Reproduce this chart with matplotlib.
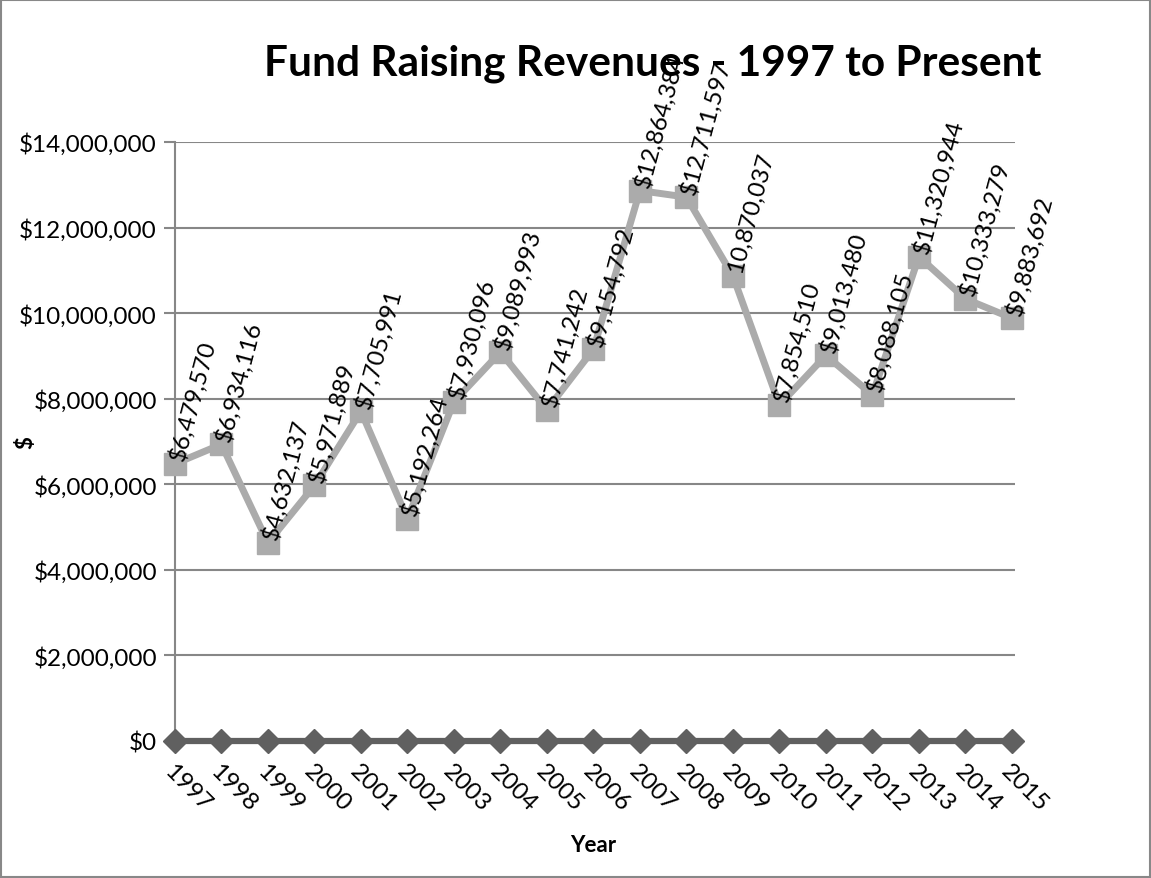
import numpy as np
import matplotlib.pyplot as plt
from matplotlib.patches import Rectangle

years = [1997, 1998, 1999, 2000, 2001, 2002, 2003, 2004, 2005, 2006,
         2007, 2008, 2009, 2010, 2011, 2012, 2013, 2014, 2015]
revenue = [6479570, 6934116, 4632137, 5971889, 7705991, 5192264, 7930096,
           9089993, 7741242, 9154792, 12864384, 12711597, 10870037, 7854510,
           9013480, 8088105, 11320944, 10333279, 9883692]
point_labels = ['$6,479,570', '$6,934,116', '$4,632,137', '$5,971,889',
                '$7,705,991', '$5,192,264', '$7,930,096', '$9,089,993',
                '$7,741,242', '$9,154,792', '$12,864,384', '$12,711,597',
                '10,870,037', '$7,854,510', '$9,013,480', '$8,088,105',
                '$11,320,944', '$10,333,279', '$9,883,692']
baseline = [0] * len(years)
yticks = [0, 2000000, 4000000, 6000000, 8000000, 10000000, 12000000, 14000000]

plt.rcParams['font.family'] = ['Lato', 'DejaVu Sans']

fig = plt.figure(figsize=(11.51, 8.79), dpi=100)
ax = fig.add_axes([0.152, 0.1559, 0.882 - 0.152, 0.8373 - 0.1559])

grid_c = '#878787'
ax.set_ylim(0, 14000000)
ax.set_xlim(1997, 2015.07)
ax.set_yticks(yticks)
ax.set_yticklabels(['${:,}'.format(v) for v in yticks], fontsize=17.5)
ax.set_xticks(years)
ax.set_xticklabels([str(y) for y in years], fontsize=17.5, rotation=-45,
                   ha='left', va='top', rotation_mode='anchor')
ax.tick_params(axis='y', length=8, width=1.5, color=grid_c, pad=5)
ax.tick_params(axis='x', length=0, pad=14)
ax.yaxis.grid(True, color=grid_c, linewidth=1.5)
ax.set_axisbelow(True)
for s in ['top', 'right', 'bottom']:
    ax.spines[s].set_visible(False)
ax.spines['left'].set_color(grid_c)
ax.spines['left'].set_linewidth(1.5)

ax.plot(years, baseline, color='#606060', linewidth=4.5, marker='D',
        markersize=12, clip_on=False, zorder=4)
ax.plot(years, revenue, color='#ABABAB', linewidth=5, marker='s',
        markersize=16, clip_on=False, zorder=4)

for x, v, lab in zip(years, revenue, point_labels):
    ax.annotate(lab, (x, v), xytext=(1, 3), textcoords='offset points',
                rotation=75, rotation_mode='anchor',
                ha='left', va='center', fontsize=17.5, zorder=5)

ax.set_xlabel('Year', fontsize=16, fontweight='bold')
ax.set_ylabel('$', fontsize=16, fontweight='bold')
ax.yaxis.set_label_coords(-0.165, 0.5)
ax.xaxis.set_label_coords(0.498, -0.155)

fig.text(0.567, 0.928, 'Fund Raising Revenues - 1997 to Present',
         fontsize=30.5, fontweight='bold', ha='center', va='center', zorder=10)

fig.patches.append(Rectangle((0.001, 0.001), 0.998, 0.998, transform=fig.transFigure,
                             fill=False, edgecolor='#888888', linewidth=1.5))

fig.savefig('out.png', dpi=100)
